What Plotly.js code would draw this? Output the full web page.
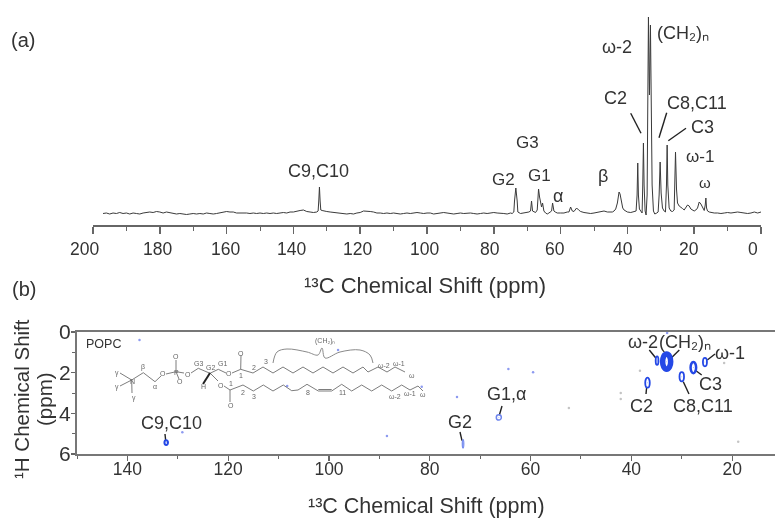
<!DOCTYPE html>
<html><head><meta charset="utf-8">
<script src="https://cdn.plot.ly/plotly-3.0.1.min.js"></script>
<style>html,body{margin:0;padding:0;background:#fff;overflow:hidden}#c{width:775px;height:518px;filter:blur(0.4px)}</style>
</head><body><div id="c"></div>
<script>
// (a) 1D 13C spectrum
const specPpmBroad = [
197,196,195,194,193,192,191,190,189,188,
187,186,185,184,183,182,181,180,179,178,
177,176,175,174,173,172,171,170,169,168,
167,166,165,164,163,162,161,160,159,158,
157,156,155,154,153,152,151,150,149,148,
147,146,145,144,143,142,141,140,139,138,
137,136,135,134,133,132.6,132.4,132.2,132,131.8,
131.4,131,130,129,128,127,126,125,124,123,
122,121,120,119,118,117,116,115,114,113,
112,111,110,109,108,107,106,105,104,103,
102,101,100,99,98,97,96,95,94,93,
92,91,90,89,88,87,86,85,84,83,
82,81,80,79,78,77,76];
const specIntBroad = [
11.5,12,11,12,11.5,12.5,11.5,12,11,12,
11.5,11,12,12.5,13,12.5,13.5,13,12,13,
12.5,12,11,11.5,11,10.5,11,11.5,11,11.5,
11,12,11.5,11,11.5,12,13,13.5,13,13,
12,12,12.5,12,11.5,12,11.5,12,11.5,12,
11.5,12,11.5,12,12.5,12,13,13,14,14.5,
15,13.5,13,12.5,13,14,24,38,24,15,
14.5,14,13.5,13,12.5,12,11.5,11,11,11.5,
11,12,12.5,14,14,13.5,13,12,12,11.5,
12,11.5,12,11.5,11,11.5,12,11.5,12,12.5,
12,11.5,12,12,11,11.5,12,12.5,12,11.5,
11,11.5,12,11.5,12,12,11.5,11,11.5,12,
11.5,12,12.5,12,12,11.5,11];
const specPpmPeaks = [
75,74.5,74,73.8,73.4,73,72.8,72,71,70,
69.5,69,68.7,68.4,68,67.5,67,66.8,66.6,66.3,
66,65.7,65.4,65,64.5,64,63.5,63,62.7,62.4,
62,61.6,61,60,59,58,57.5,57,56.5,56,
55.6,55.2,54.6,54,53,52,51,50,49,48,
47,46,45,44.5,44,43.5,43,42.8,42.5,42.2,
41.8,41.4,41,40.5,40,39,38,37.4,37.1,36.9,
36.7,36.4,36,35.6,35.4,35.2,35,34.7,34.4,34.1,
33.9,33.7,33.5,33.4,33.1,32.9,32.6,32.2,31.8,31.2,
30.8,30.5,30.2,29.9,29.5,29,28.6,28.3,28.1,27.9,
27.5,27,26.5,26,25.8,25.6,25.3,25,24.5,24,
23.5,23,22.5,22,21.5,21,20,19.5,19,18.5,
18,17.5,17,16.7,16.5,16.3,16,15.5,15,14,
13,12,11,10,9,8,7,6,5,4,
3,2,1,0];
const specIntPeaks = [
12,11.5,13,24,37,24,13,11.5,12,12,
13,14,24,14,13,12.5,15,28,36,28,
20,18,22,14,12,11,12,13,14,22,
14,13,12,12,12,13,13,18,14,13.5,
15,17,15,13.5,12.5,12,11.5,12,12.5,13,
14,13,12.5,13,14,16,22,30,33,31,
24,17,15,14,13,12.5,13,14,30,62,
30,16,14,12,40,82,40,14,10,30,
120,208,150,130,200,120,40,14,11,12,
13,30,63,32,17,14,13,40,80,40,
17,14,13.5,15,40,73,36,22,19,18,
16.5,15,17,20,19,16,14,15,17,23,
21,17,14.5,20,27,17,14,13,12.5,12,
12,11.5,12,12.5,12,12.5,13,12.5,12,11.5,
12,13,12,13];
// (b) 2D 1H-13C correlation peaks
const peakC = [132.3,66.3,73.4,36.8,34.9,33,30,27.7,25.4];
const peakH = [5.44,4.2,5.5,2.49,1.41,1.46,2.2,1.75,1.48];
const peakWidthC = [0.7,1.0,0.3,0.9,0.55,1.6,0.9,1.1,0.8];
const peakWidthH = [0.24,0.26,0.42,0.5,0.42,0.75,0.45,0.55,0.42];
const speckC = [137.6,129.1,88.5,98.2,81.6,108.3,74.6,64.4,59.5,32.9];
const speckH = [0.39,4.93,5.11,0.88,2.69,2.66,3.2,1.82,1.98,0.05];
const greySpeckC = [52.4,42.1,42.1,38.3,21.6,18.8];
const greySpeckH = [3.74,3.0,3.3,1.9,1.52,5.4];
const xTicksTop = [200,180,160,140,120,100,80,60,40,20,0];
const xTickLabelPx = [84.5,157,225,291,357,424,490,555,623,689,753];
const xTicksBottom = [140,120,100,80,60,40,20];
const yTicksBottom = [0,2,4,6];

const INK='#333', AX='#666', BLUE='#2448e6';
const W=775,H=518;
const SANS='"Liberation Sans",Arial,sans-serif';

const peakLine=[2,1.5,1.2,1.8,1.8,5.5,1.8,2.5,1.8];
const peakCol=[BLUE,'#6f86ee','#6f86ee',BLUE,BLUE,BLUE,BLUE,BLUE,BLUE];
const shapes = peakC.map((c,i)=>({type:'circle',xref:'x2',yref:'y2',x0:c-peakWidthC[i]/2,x1:c+peakWidthC[i]/2,
  y0:peakH[i]-peakWidthH[i]/2,y1:peakH[i]+peakWidthH[i]/2,line:{color:peakCol[i],width:peakLine[i]},fillcolor:'rgba(0,0,0,0)'}));

// leader lines and the POPC sketch sit on a page-sized helper axis
const leaders=[[630.7,113.3,641,133.3],[666.7,112.7,659,137.7],[686,128.3,668.3,140.7],
 [165,434,165.7,440.7],[502,406,499.3,415.3],[460,432,462,440.7],[649.3,350,656,358.3],[679.3,350,670,359.3],
 [715,354,707.3,360],[701.7,375,695,370],[689,394,683.3,381.7],[646,394,646.7,386.7]];
const lx=[],ly=[];leaders.forEach(l=>{lx.push(l[0],l[2],null);ly.push(l[1],l[3],null);});

const mol=[
 [[131.7,380],[120,373]],[[131.7,380],[120,386]],[[131.7,380],[132,393]],
 [[131.7,380],[143.3,372.7],[155,381.7],[161,376]],[[166,374],[176,371.7],[184,373]],[[176,371.7],[176,360]],[[176,371.7],[179,379]],
 [[191,373],[198.3,368.3],[210,373.3],[218.3,369.3],[226,373]],[[232,373],[240.7,369.3],[241,355]],
 [[240.7,369.3],[253,373],[263,367],[273,373],[283,367],[293,373],[303,367],[313,373],[323,367],[333,373],[343,367],[353,373],[363,367],[368,372],[378,367],[387,372],[395,367],[405,372]],
 [[210,373],[218,381]],[[224,386],[230,390],[243,385],[253.3,391],[263.3,385],[273,391],[283.3,385],[291.7,390.7],[298,390],[307,384.3],[318.3,391]],
 [[230,390],[230,402]],[[318.3,391],[331.7,391],[341.7,384.3],[351.7,391],[361.7,385],[371.7,391],[381.7,385],[391.7,391],[401.7,385],[410,390],[418,386],[423,391]]
];
const mx=[],my=[];mol.forEach(p=>{p.forEach(q=>{mx.push(q[0]);my.push(q[1]);});mx.push(null);my.push(null);});
const brace=[[273,363],[277,352],[287,349],[307,352],[318,355],[322,348],[325,358],[340,352],[360,350],[370,355],[373,363]];

const lab=(text,x,y,size,extra)=>Object.assign({text,x,y,xref:'x3',yref:'y3',showarrow:false,xanchor:'center',yanchor:'middle',
  font:{family:SANS,size,color:INK}},extra||{});
const GREY={font:{family:SANS,size:7,color:'#666'}};
const tiny=(t,x,y)=>lab(t,x,y,7,GREY);
const annotations=[
 lab('(a)',23,40,20),lab('(b)',24,289,20),
 ...xTicksTop.map((v,i)=>lab(String(v),xTickLabelPx[i],249,17.5)),
 lab('C9,C10',318,171,18),lab('ω-2',617,47,18),lab('(CH₂)ₙ',683,33,18),
 lab('C2',615,98,18),lab('C8,C11',697,103,18),lab('C3',702,127,18),lab('ω-1',700,156,17),lab('ω',705,182,15),
 lab('G3',527,142,17),lab('G2',503,179,17),lab('G1',539,175,17),lab('α',558,196,18),lab('β',603,176,18),
 lab('¹³C Chemical Shift (ppm)',425,285,22),lab('¹³C Chemical Shift (ppm)',426,506,21.5),
 lab('¹H Chemical Shift',21,399,20.5,{textangle:-90}),lab('(ppm)',44,399,20.5,{textangle:-90}),
 lab('POPC',103,344,12.5),
 lab('C9,C10',171,423,18),lab('G1,α',506,394,18),lab('G2',460,422,18),
 lab('ω-2',643,342,18),lab('(CH₂)ₙ',685,342,18),lab('ω-1',730,353,18),
 lab('C2',641,406,18),lab('C3',710,384,18),lab('C8,C11',703,406,18),
 // POPC sketch labels
 tiny('(CH₂)ₙ',325,341),tiny('3',266,361),tiny('2',254,367),
 lab('G3',198,363,8,GREY),lab('G2',210,367,8,GREY),lab('G1',222,363,8,GREY),tiny('β',143,367),tiny('α',155,386),
 tiny('N',132,381),tiny('γ',117,373),tiny('γ',117,387),tiny('γ',134,398),
 tiny('O',163,373),tiny('P',176,372),tiny('O',176,356),tiny('O',180,381),tiny('O',188,374),tiny('O',229,373),tiny('O',241,353),
 tiny('O',221,385),tiny('O',231,405),tiny('H',203,386),tiny('1',241,375),tiny('1',231,383),tiny('2',243,392),tiny('3',254,396),
 tiny('8',308,392),tiny('11',342,392),
 tiny('ω-2',384,365),tiny('ω-1',399,363),tiny('ω',412,375),
 tiny('ω-2',395,396),tiny('ω-1',410,393),tiny('ω',423,394)
];

const data=[
 {x:specPpmBroad.concat(specPpmPeaks),y:specIntBroad.concat(specIntPeaks),type:'scatter',mode:'lines',name:'13C',xaxis:'x',yaxis:'y',line:{color:'#3a3a3a',width:1}},
 {x:speckC,y:speckH,type:'scatter',mode:'markers',name:'weak',xaxis:'x2',yaxis:'y2',marker:{size:2.5,color:'#8d9af0'}},
 {x:greySpeckC,y:greySpeckH,type:'scatter',mode:'markers',name:'weak grey',xaxis:'x2',yaxis:'y2',marker:{size:2.5,color:'#c4c4c4'}},
 {x:peakC,y:peakH,type:'scatter',mode:'markers',name:'peaks',xaxis:'x2',yaxis:'y2',marker:{size:1,color:BLUE,opacity:0.4}},
 {x:mx,y:my,type:'scatter',mode:'lines',name:'POPC',xaxis:'x3',yaxis:'y3',line:{color:'#6e6e6e',width:0.9}},
 {x:[331.7,318.3],y:[389.5,389.5],type:'scatter',mode:'lines',name:'C=C',xaxis:'x3',yaxis:'y3',line:{color:'#6e6e6e',width:0.9}},
 {x:[210,203],y:[373,384],type:'scatter',mode:'lines',name:'wedge',xaxis:'x3',yaxis:'y3',line:{color:'#222',width:2}},
 {x:brace.map(p=>p[0]),y:brace.map(p=>p[1]),type:'scatter',mode:'lines',name:'brace',xaxis:'x3',yaxis:'y3',line:{color:'#8a8a8a',width:1,shape:'spline'}},
 {x:lx,y:ly,type:'scatter',mode:'lines',name:'leaders',xaxis:'x3',yaxis:'y3',line:{color:'#222',width:1.4}}
];
const layout={width:W,height:H,margin:{l:0,r:0,t:0,b:0},paper_bgcolor:'#fff',plot_bgcolor:'rgba(0,0,0,0)',showlegend:false,
 font:{family:SANS,color:INK},shapes,annotations,
 xaxis:{domain:[93/W,761/W],range:[200,0],anchor:'y',tickmode:'array',tickvals:xTicksTop,showticklabels:false,ticks:'outside',ticklen:7,tickwidth:1.5,tickcolor:AX,
   linecolor:AX,linewidth:1.5,showline:true,showgrid:false,zeroline:false,
   minor:{tickvals:[190,170,150,130,110,90,70,50,30,10],ticks:'outside',ticklen:4,tickwidth:1,tickcolor:AX,showgrid:false}},
 yaxis:{domain:[1-225/H,1-10/H],range:[0,215],anchor:'x',visible:false,fixedrange:true},
 xaxis2:{domain:[77/W,1],range:[150,11.5],anchor:'y2',tickmode:'array',tickvals:xTicksBottom,ticktext:xTicksBottom.map(String),ticks:'outside',ticklen:5,tickwidth:1.2,tickcolor:AX,ticklabelstandoff:-7,
   linecolor:'#777',linewidth:2,showline:true,mirror:true,showgrid:false,zeroline:false,tickfont:{size:17.5,color:INK},
   minor:{tickvals:[150,130,110,90,70,50,30],ticks:'outside',ticklen:3,tickwidth:1,tickcolor:AX,showgrid:false}},
 yaxis2:{domain:[1-454/H,1-332/H],range:[6,0],anchor:'x2',tickmode:'array',tickvals:yTicksBottom,ticktext:yTicksBottom.map(String),ticks:'outside',ticklen:4,tickwidth:1.2,tickcolor:AX,ticklabelstandoff:-4,
   linecolor:'#777',linewidth:2,showline:true,mirror:true,showgrid:false,zeroline:false,tickfont:{size:21,color:INK},
   minor:{tickvals:[1,3,5],ticks:'outside',ticklen:3,tickwidth:1,tickcolor:AX,showgrid:false}},
 xaxis3:{domain:[0,1],range:[0,W],anchor:'y3',visible:false,fixedrange:true},
 yaxis3:{domain:[0,1],range:[H,0],anchor:'x3',visible:false,fixedrange:true}
};
Plotly.newPlot('c',data,layout,{displayModeBar:false,staticPlot:true});
</script></body></html>
